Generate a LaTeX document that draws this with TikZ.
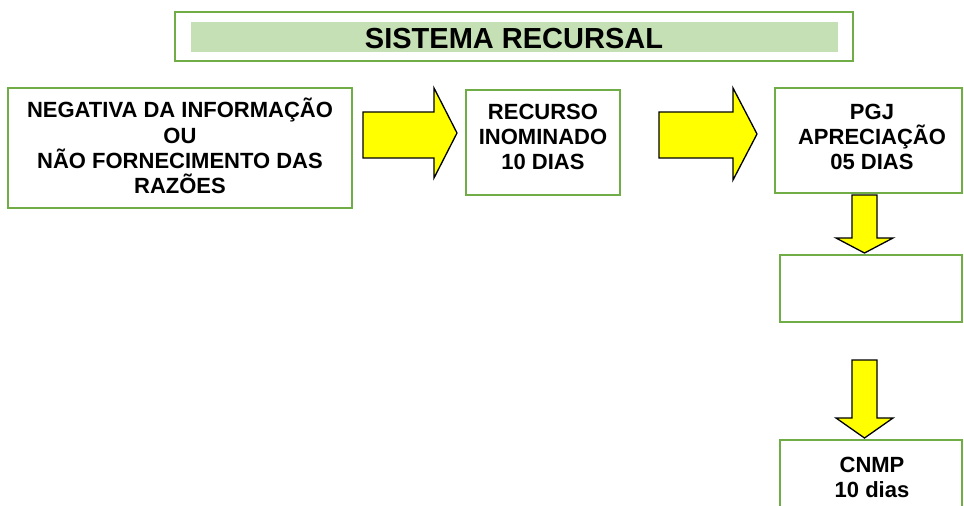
\documentclass[tikz,border=0pt]{standalone}
\usepackage{fontspec}
\setmainfont{Liberation Sans}
\definecolor{gborder}{RGB}{112,173,71}
\definecolor{gband}{RGB}{197,224,180}
\definecolor{ayellow}{RGB}{255,255,0}
\begin{document}
\begin{tikzpicture}[x=1pt,y=-1pt,
  box/.style={draw=gborder, line width=2.2pt, inner sep=0pt, fill=white},
  txt/.style={align=center, inner sep=0pt, font=\fontsize{22pt}{25.3pt}\selectfont\bfseries},
  blockarrow/.style={fill=ayellow, draw=black, line width=1.3pt, line join=miter}]
\useasboundingbox (0,0) rectangle (964,506);
\clip (0,0) rectangle (964,506);
% title
\node[box, minimum width=678pt, minimum height=49pt] (tbox) at (514,36.5) {};
\node[fill=gband, inner sep=0pt, minimum width=647pt, minimum height=30pt] (tband) at (514.5,37) {};
\node[inner sep=0pt, font=\fontsize{29pt}{34pt}\selectfont\bfseries] (ttext) at (514,39) {SISTEMA RECURSAL};
% boxes
\node[box, minimum width=344pt, minimum height=120pt] (b1) at (180,148) {};
\node[txt] (t1) at (180,146) {NEGATIVA DA INFORMAÇÃO\\OU\\NÃO FORNECIMENTO DAS\\RAZÕES};
\node[box, minimum width=154pt, minimum height=105pt] (b2) at (543,142.5) {};
\node[txt] (t2) at (543,137) {RECURSO\\INOMINADO\\10 DIAS};
\node[box, minimum width=187pt, minimum height=105pt] (b3) at (868.5,140.5) {};
\node[txt] (t3) at (872,137) {PGJ\\APRECIAÇÃO\\05 DIAS};
\node[box, minimum width=182pt, minimum height=67pt] (b4) at (871,288.5) {};
\node[box, minimum width=182pt, minimum height=90pt] (b5) at (871,485) {};
\node[txt] (t5) at (872,477.5) {CNMP\\10 dias};
% block arrows
\draw[blockarrow] (363,112) -- (434,112) -- (434,88) -- (457,133) -- (434,178) -- (434,158) -- (363,158) -- cycle;
\draw[blockarrow] (659,112) -- (733,112) -- (733,88) -- (757,134) -- (733,180) -- (733,158) -- (659,158) -- cycle;
\draw[blockarrow] (852,195) -- (877,195) -- (877,238) -- (893,238) -- (864.5,253) -- (836,238) -- (852,238) -- cycle;
\draw[blockarrow] (852,360) -- (877,360) -- (877,418) -- (893,418) -- (864.5,438) -- (836,418) -- (852,418) -- cycle;
\end{tikzpicture}
\end{document}
